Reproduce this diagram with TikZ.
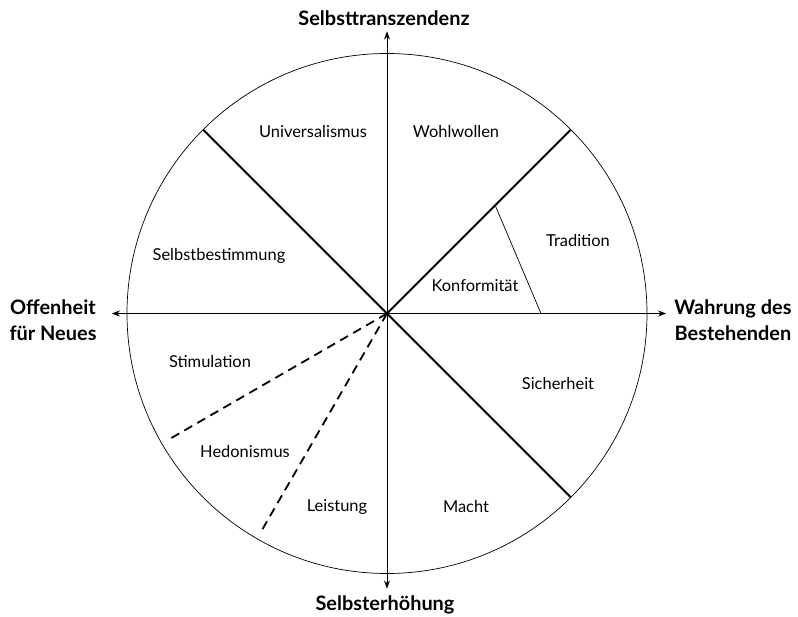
\documentclass[tikz,border=0pt]{standalone}
\usepackage{fontspec}
\setmainfont{Lato}
\usetikzlibrary{arrows.meta}
\begin{document}
\begin{tikzpicture}[x=1bp,y=1bp,>={Stealth[length=8bp,width=6bp]},font=\fontsize{16.5}{19}\selectfont,
	axlabel/.style={font=\fontsize{20}{26}\selectfont\bfseries,align=center},
	border/.style={line width=1.8pt},
	soft/.style={line width=1.8pt,dash pattern=on 9bp off 6bp}]
	\useasboundingbox (-387,-303.5) rectangle (411,313.5);
	\coordinate (O) at (0,0);
	\coordinate (N) at (0,282);
	\coordinate (S) at (0,-275);
	\coordinate (W) at (-275,0);
	\coordinate (E) at (279,0);
	\draw[line width=0.7pt] (O) circle (260);
	\draw[->,line width=0.7pt] (O)--(N);
	\draw[->,line width=0.7pt] (O)--(S);
	\draw[->,line width=0.7pt] (O)--(W);
	\draw[->,line width=0.7pt] (O)--(E);
	% Grenzen der Wertebereiche
	\draw[border] (135:260)--(O)--(45:260);
	\draw[border] (O)--(-45:260);
	\draw[soft] (O)--(210:249);
	\draw[soft] (O)--(240:249);
	\draw[line width=0.7pt] (45:153)--(0:154);
	% Achsen
	\node[axlabel] (trans) at (-3,295.5) {Selbsttranszendenz};
	\node[axlabel] (erh) at (-2,-291) {Selbsterhöhung};
	\node[axlabel] (offen) at (-334,-6.5) {Offenheit\\für Neues};
	\node[axlabel] (wahr) at (346,-6.5) {Wahrung des\\Bestehenden};
	% Werte
	\node (univ) at (-74,181.5) {Universalismus};
	\node (wohl) at (69,181.5) {Wohlwollen};
	\node (trad) at (191,72.5) {Tradition};
	\node (konf) at (88,27.5) {Konformität};
	\node (selbst) at (-168,57.5) {Selbstbestimmung};
	\node (stim) at (-177,-48.5) {Stimulation};
	\node (hedo) at (-142,-138.5) {Hedonismus};
	\node (leist) at (-50,-193.5) {Leistung};
	\node (macht) at (79,-193.5) {Macht};
	\node (sich) at (171,-70.5) {Sicherheit};
\end{tikzpicture}
\end{document}
